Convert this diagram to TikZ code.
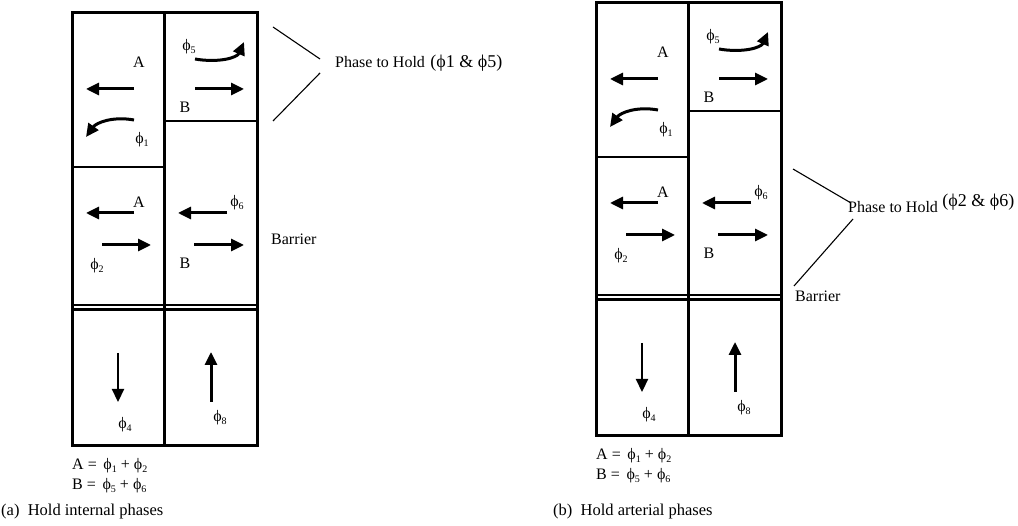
\documentclass[tikz,border=0pt]{standalone}
\usepackage{fontspec}
\setmainfont{Liberation Serif}
\usetikzlibrary{arrows.meta}

% phase symbol with a lowered small index
\newcommand\ph[1]{ϕ\raisebox{-0.35ex}{\fontsize{10}{10}\selectfont #1}}

% one signalised junction: two columns, stop-bar divisions and the barrier
\newcommand\junction[1]{%
  \draw[frame] (72,13) rectangle (257,446);
  \draw[frame] (164,13) -- (164,446);
  \draw[divider] (72,167) -- (164,167);
  \draw[divider] (164,121) -- (257,121);
  \draw[barrierline] (72,305) -- (257,305);
  \draw[barrierline] (72,309.5) -- (257,309.5);
  % upper ring, first stage
  \draw[move] (134,89) -- (86,89);
  \draw[move] (134,120) .. controls (112,116) and (96,123) .. (86,137);
  \draw[move] (195,59) .. controls (218,63) and (237,58) .. (244,42);
  \draw[move] (195,89) -- (244,89);
  % upper ring, second stage
  \draw[move] (134,213) -- (86,213);
  \draw[move] (102,245) -- (151,245);
  \draw[move] (227,213) -- (178,213);
  \draw[move] (194,245) -- (244,245);
  % cross street
  \draw[move, line width=2.2pt] (118,353) -- (118,402);
  \draw[move] (211,402) -- (211,352);
  % labels
  \node[lbl] (#1-A1) at (139,62) {A};
  \node[lbl] (#1-p1) at (142,140) {\ph1};
  \node[lbl] (#1-p5) at (189,47) {\ph5};
  \node[lbl] (#1-B1) at (185,107) {B};
  \node[lbl] (#1-A2) at (139,202) {A};
  \node[lbl] (#1-p2) at (97,266) {\ph2};
  \node[lbl] (#1-p6) at (237,203) {\ph6};
  \node[lbl] (#1-B2) at (185,263) {B};
  \node[lbl] (#1-p4) at (125,425) {\ph4};
  \node[lbl] (#1-p8) at (220,418) {\ph8};
  \node[lbl, anchor=west] (#1-eqA) at (72,466) {A = \,\ph1 + \ph2};
  \node[lbl, anchor=west] (#1-eqB) at (72,486) {B = \,\ph5 + \ph6};
}

\begin{document}
\begin{tikzpicture}[x=1pt, y=-1pt,
  frame/.style={line width=3pt},
  divider/.style={line width=1.4pt},
  barrierline/.style={line width=2.2pt},
  move/.style={line width=3pt, -{Triangle[length=13pt, width=12pt]}},
  lbl/.style={font=\fontsize{16}{16}\selectfont, inner sep=0pt},
  note/.style={font=\fontsize{16}{16}\selectfont, inner sep=0pt},
  setnote/.style={font=\fontsize{18}{18}\selectfont, inner sep=0pt},
  caption/.style={font=\fontsize{16.5}{16.5}\selectfont, inner sep=0pt},
  leader/.style={line width=1.1pt}]
\useasboundingbox (0,0) rectangle (1018,526);

% (a) internal phases held
\junction{a}
\coordinate (a-l1) at (273,27);
\coordinate (a-l2) at (320,59);
\coordinate (a-l3) at (320,73);
\coordinate (a-l4) at (273,121);
\draw[leader] (a-l1) -- (a-l2);
\draw[leader] (a-l3) -- (a-l4);
\node[note, anchor=west] (a-hold) at (335,62) {Phase to Hold};
\node[setnote, anchor=west] (a-set) at ([xshift=5pt, yshift=-1pt]a-hold.east) {(ϕ1 \& ϕ5)};
\node[note, anchor=west] (a-bar) at (271,239) {Barrier};
\node[caption, anchor=west] (a-cap) at (1,512) {(a)\ \ Hold internal phases};

% (b) arterial phases held
\begin{scope}[shift={(524,-10)}]
\junction{b}
\end{scope}
\coordinate (b-l1) at (793,169);
\coordinate (b-l2) at (851,203);
\coordinate (b-l3) at (853,219);
\coordinate (b-l4) at (794,286);
\draw[leader] (b-l1) -- (b-l2);
\draw[leader] (b-l3) -- (b-l4);
\node[note, anchor=west] (b-hold) at (848,207) {Phase to Hold};
\node[setnote, anchor=west] (b-set) at ([xshift=4pt, yshift=5pt]b-hold.east) {(ϕ2 \& ϕ6)};
\node[note, anchor=west] (b-bar) at (795,296) {Barrier};
\node[caption, anchor=west] (b-cap) at (553,512) {(b)\ \ Hold arterial phases};
\end{tikzpicture}
\end{document}
